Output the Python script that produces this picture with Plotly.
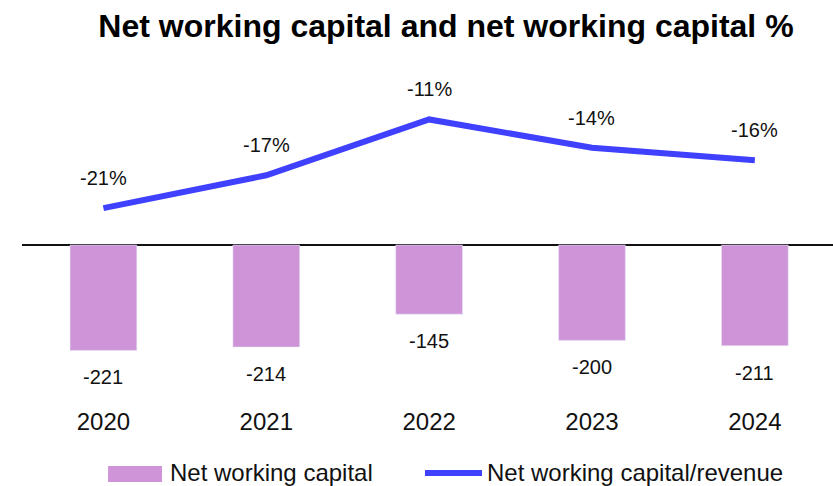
import plotly.graph_objects as go

years = ["2020", "2021", "2022", "2023", "2024"]
nwc = [-221, -214, -145, -200, -211]
nwc_pct = [-21.0, -17.3, -11.0, -14.2, -15.6]
nwc_pct_labels = ["-21%", "-17%", "-11%", "-14%", "-16%"]

bar_name = "Net working capital"
line_name = "Net working capital/revenue"
bar_color = "#CF94D8"
line_color = "#4040FF"
font = "Liberation Sans, Arial, sans-serif"

fig = go.Figure()
fig.add_trace(go.Bar(x=years, y=nwc, name=bar_name, marker_color=bar_color,
                     width=0.41, showlegend=False))
fig.add_trace(go.Scatter(x=years, y=nwc_pct, name=line_name, mode="lines",
                         line=dict(color=line_color, width=6), yaxis="y2",
                         showlegend=False))

# value labels (category axis -> annotation x is the category index)
for i, v in enumerate(nwc):
    fig.add_annotation(x=i, y=v, text=str(v), showarrow=False, yanchor="middle",
                       yshift=-27, font=dict(size=20, color="#111"))
for i, (v, t) in enumerate(zip(nwc_pct, nwc_pct_labels)):
    fig.add_annotation(x=i, y=v, yref="y2", text=t, showarrow=False, yanchor="middle",
                       yshift=30, font=dict(size=20, color="#111"))

# legend drawn by hand (wide swatches)
fig.add_shape(type="rect", xref="paper", yref="paper", x0=0.1061, x1=0.1726,
              y0=-0.2232, y1=-0.1768, fillcolor=bar_color, line_width=0)
fig.add_annotation(xref="paper", yref="paper", x=0.180, y=-0.197, text=bar_name,
                   showarrow=False, xanchor="left", yanchor="middle",
                   font=dict(size=24, color="#111"))
fig.add_shape(type="line", xref="paper", yref="paper", x0=0.4969, x1=0.5672,
              y0=-0.1971, y1=-0.1971, line=dict(color=line_color, width=6))
fig.add_annotation(xref="paper", yref="paper", x=0.5709, y=-0.197, text=line_name,
                   showarrow=False, xanchor="left", yanchor="middle",
                   font=dict(size=24, color="#111"))

fig.update_layout(
    width=833, height=486,
    margin=dict(l=22, r=0, t=60, b=81),
    paper_bgcolor="white", plot_bgcolor="white",
    font=dict(family=font, color="#111"),
    title=dict(text="<b>Net working capital and net working capital %</b>",
               x=0.5354, xref="container", xanchor="center",
               y=0.9465, yref="container", yanchor="middle",
               font=dict(size=32, color="#000")),
    xaxis=dict(type="category", range=[-0.5, 4.48], showgrid=False, showline=False,
               ticks="", tickfont=dict(size=24, color="#111")),
    yaxis=dict(range=[-335.4, 387.8], showgrid=False, showticklabels=False,
               zeroline=True, zerolinecolor="#111", zerolinewidth=2),
    yaxis2=dict(range=[-43.2, -4.3], overlaying="y", side="right", showgrid=False,
                showticklabels=False, zeroline=False),
    showlegend=False,
)

fig.write_html("out.html", config={"displayModeBar": False},
               post_script="document.body.style.margin='0';")
